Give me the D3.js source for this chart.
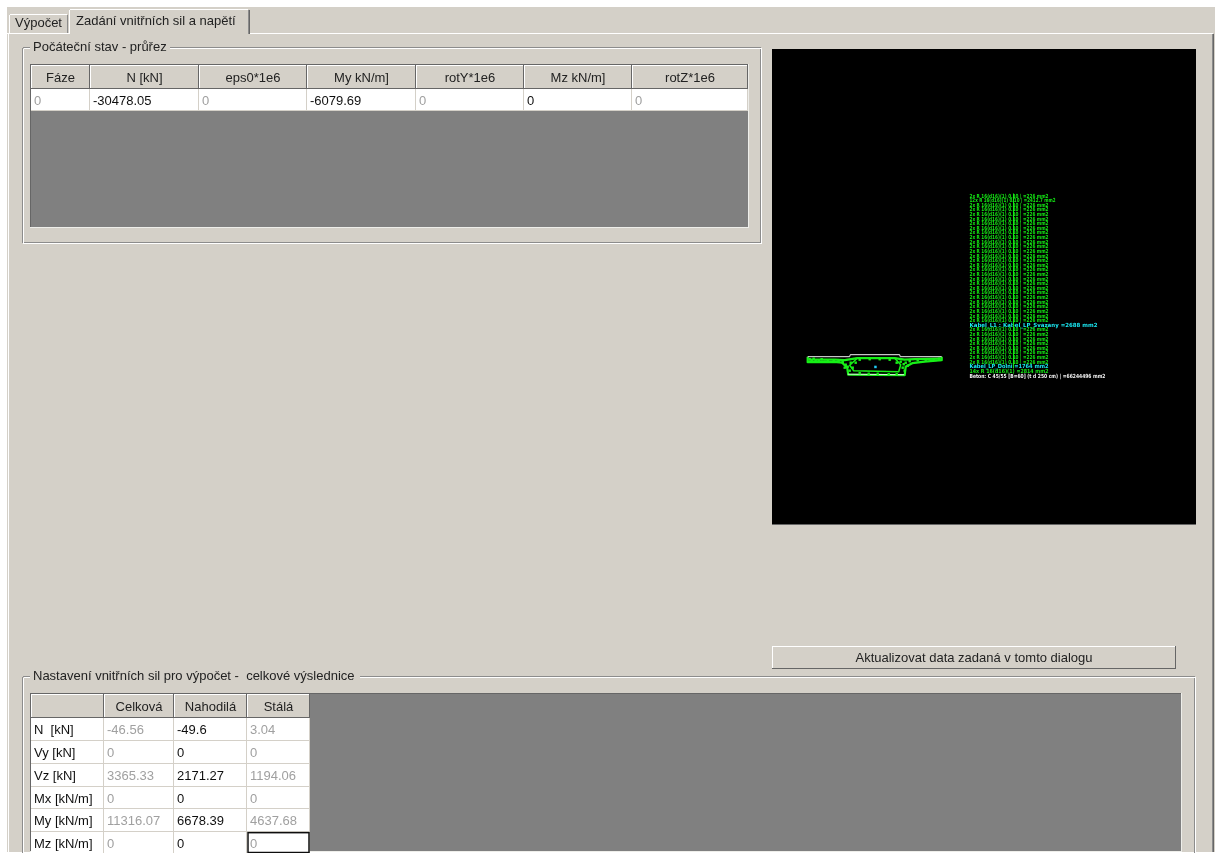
<!DOCTYPE html>
<html>
<head>
<meta charset="utf-8">
<script src="https://cdn.jsdelivr.net/npm/d3@7"></script>
<style>
html,body{margin:0;padding:0;background:#fff;overflow:hidden}
svg{display:block}
text{font-family:"Liberation Sans",sans-serif;font-size:13px;fill:#222;white-space:pre}
</style>
</head>
<body>
<div id="chart"></div>
<script>
var tabs = ['Výpočet','Zadání vnitřních sil a napětí']
var stateTitle = 'Počáteční stav - průřez'
var stateHeaders = ['Fáze','N [kN]','eps0*1e6','My kN/m]','rotY*1e6','Mz kN/m]','rotZ*1e6']
var stateValues = ['0','-30478.05','0','-6079.69','0','0','0']
var stateEnabled = [false,true,false,true,false,true,false]
var forcesTitle = 'Nastavení vnitřních sil pro výpočet -  celkové výslednice'
var forcesHeaders = ['','Celková','Nahodilá','Stálá']
var forcesRows = ['N  [kN]','Vy [kN]','Vz [kN]','Mx [kN/m]','My [kN/m]','Mz [kN/m]']
var celkova = ['-46.56','0','3365.33','0','11316.07','0']
var nahodila = ['-49.6','0','2171.27','0','6678.39','0']
var stala = ['3.04','0','1194.06','0','4637.68','0']
var buttonLabel = 'Aktualizovat data zadaná v tomto dialogu'

// section outline, 0.2 m units from the axis / metres from the deck top
var deckTop = [[-13.4,.2],[-5,.2],[-4.9,0],[5,0],[5.1,.2],[13.4,.2]]
var deckUnder = [[-13.4,.2],[-13.4,.75],[-8,.72],[-6.5,.8],[-5.5,1.3],[-5.3,2],[6,2.05],[6.2,1.2],[7.5,.85],[10,.7],[13.4,.55],[13.4,.2]]
var wingLine = [[-13.2,.5],[-8,.5],[-6,.55],[-3.5,.35],[4,.35],[6,.5],[8,.45],[13.2,.4]]
var voidLine = [[-3.5,.35],[-5,1.05],[-4.2,1.6],[4.8,1.7],[5.2,1],[4,.35]]
var soffit = [[-5.4,1.95],[5.9,2]]
var deckBars = [[-12.6,.55],[-11.8,.6],[-10.6,.45],[-9.4,.6],[-8.2,.65],[-7.2,.6],[-6.4,.75],[-5.8,1],[-5.4,1.2],[-4.8,.8],[-4.4,1.3],[-5,1.6],[5.2,.7],[5.8,.95],[6.2,.8],[5.6,1.3],[6,1.6],[7,.65],[8.6,.55],[10.2,.5],[11.8,.45],[12.9,.4],[-3,1.85],[-1.2,1.9],[.6,1.9],[2.8,1.95],[4.4,1.95],[-13,.45],[-12.2,.4],[-11.2,.65],[-10,.7],[-3,.5],[-1,.45],[1,.45],[3,.5],[6.6,1.1],[-6,1.3],[-3.8,.8],[4.4,.8]]
var tendon = [[.1,1.2]]

// bar list next to the section
var barText = '2x R 16(d16)(1) 0.10 | =226 mm2'
var barLabels = ['2x R 16(d16)(1) 0.10 | =226 mm2','12x R 16(d16)(1) 0.10 | =2412.7 mm2'].concat(Array(26).fill(barText))
var cableLabel = 'Kabel_L1 : Kabel_LP_Svazany =2688 mm2'
var lowerLabels = Array(8).fill(barText)
var cableLabel2 = 'Kabel_LP_Dolni =1764 mm2'
var lastBar = '14x R 16(d16)(1) =2814 mm2'
var concreteLabel = 'Beton: C 45/55 [B=60] (t d 250 cm) | =66244496 mm2'

var W = 1221, H = 853
var bg = '#d4d0c8', gray = '#808080', dark = '#666', mid = '#8c8c8c', light = '#fff'

var svg = d3.select('#chart').append('svg').attr('width',W).attr('height',H)
var defs = svg.append('defs')
defs.append('filter').attr('id','soft').attr('x',0).attr('y',0).attr('width',1).attr('height',1)
	.append('feGaussianBlur').attr('stdDeviation',.35)
var root = svg.append('g').attr('filter','url(#soft)')

function rect(g,x0,y0,x1,y1,fill){
	return g.append('rect').attr('x',x0).attr('y',y0).attr('width',x1-x0).attr('height',y1-y0).attr('fill',fill)
}
function line(g,x0,y0,x1,y1,c){
	return g.append('line').attr('x1',x0).attr('y1',y0).attr('x2',x1).attr('y2',y1)
		.attr('stroke',c).attr('stroke-width',1).attr('shape-rendering','crispEdges')
}
function label(g,x,y,s,c,anchor){
	return g.append('text').attr('x',x).attr('y',y).attr('text-anchor',anchor||'start').style('fill',c||'#222').text(s)
}
// raised win32 bevel
function bevel(g,x0,y0,x1,y1){
	line(g,x0,y0+.5,x1,y0+.5,light); line(g,x0+.5,y0,x0+.5,y1,light)
	line(g,x0,y1-.5,x1,y1-.5,dark); line(g,x1-.5,y0,x1-.5,y1,dark)
}
// etched group box with a title gap
function group(g,x0,y0,x1,y1,title,gap){
	;[[0,mid],[1,light]].forEach(function(d){
		var o = d[0]+.5
		line(g,x0+o,y0+o,x0+8,y0+o,d[1])
		line(g,gap,y0+o,x1+o,y0+o,d[1])
		line(g,x0+o,y0+o,x0+o,y1+o,d[1])
		line(g,x1+o,y0+o,x1+o,y1+o,d[1])
		line(g,x0+o,y1+o,x1+o,y1+o,d[1])
	})
	label(g,x0+11,y0+4,title,'#222')
}

rect(root,7,7,1215,852,bg)

// tabs
var tabG = root.append('g')
line(tabG,7,33.5,1213,33.5,light)
line(tabG,8.5,34,8.5,852,light)
line(tabG,1212.5,34,1212.5,852,mid)
line(tabG,1213.5,34,1213.5,852,dark)
rect(tabG,9,14,68,33,bg)
line(tabG,9.5,15,9.5,33,light); line(tabG,10,14.5,67,14.5,light); line(tabG,67.5,15,67.5,33,mid)
label(tabG,15,27,tabs[0])
rect(tabG,69,9,250,35,bg)
line(tabG,69.5,10,69.5,34,light); line(tabG,70,9.5,248,9.5,light)
line(tabG,248.5,10,248.5,34,mid); line(tabG,249.5,10,249.5,34,dark)
label(tabG,76,25,tabs[1])

// generic grid: gray client area, header row, body rows
function grid(x0,y0,x1,y1,colEdges,headers,rowY,headerBottom,cells){
	var g = root.append('g')
	var col = d3.scaleOrdinal(d3.range(colEdges.length),colEdges)
	rect(g,x0,y0,x1,y1,gray)
	line(g,x0,y0+.5,x1,y0+.5,dark); line(g,x0+.5,y0,x0+.5,y1,dark)
	line(g,x0,y1-.5,x1,y1-.5,'#eeeeea'); line(g,x1-.5,y0,x1-.5,y1,'#eeeeea')
	headers.forEach(function(h,i){
		var a = col(i), b = col(i+1)
		rect(g,a,y0+1,b,headerBottom,bg)
		bevel(g,a,y0+1,b,headerBottom)
		label(g,(a+b)/2,headerBottom-7,h,'#222','middle')
	})
	cells.forEach(function(c){
		var a = col(c.col), b = col(c.col+1), t = Math.round(rowY(c.row)), u = Math.round(rowY(c.row)+rowY.bandwidth())
		rect(g,a,t,b,u,'#fff')
		line(g,b-.5,t,b-.5,u,bg); line(g,a,u-.5,b,u-.5,bg)
		label(g,a+3,t+rowY.bandwidth()/2+4.5,c.text,c.on?'#111':'#a0a0a0')
	})
	return {g:g,col:col}
}

// upper table
var stateEdges = [31,90,199,307,416,524,632,748]
var stateCells = stateValues.map(function(v,i){return {col:i,row:0,text:v,on:stateEnabled[i]}})
group(root,22,47,760,242,stateTitle,170)
grid(30,64,749,228,stateEdges,stateHeaders,d3.scaleBand([0],[89,111]),89,stateCells)

// lower table
var forcesEdges = [31,104,174,247,310]
var forcesCells = []
forcesRows.forEach(function(r,i){
	forcesCells.push({col:0,row:i,text:r,on:true})
	forcesCells.push({col:1,row:i,text:celkova[i],on:false})
	forcesCells.push({col:2,row:i,text:nahodila[i],on:true})
	forcesCells.push({col:3,row:i,text:stala[i],on:false})
})
group(root,22,676,1194,900,forcesTitle,360)
var forcesY = d3.scaleBand(d3.range(forcesRows.length),[718,855])
var ft = grid(30,693,1182,852,forcesEdges,forcesHeaders,forcesY,718,forcesCells)
ft.g.append('rect').attr('x',ft.col(3)+1).attr('y',forcesY(5)+.5).attr('width',ft.col(4)-ft.col(3)-2).attr('height',forcesY.bandwidth()-3)
	.attr('fill','none').attr('stroke','#111').attr('stroke-width',1.5)

// button
var btn = root.append('g')
bevel(btn,772,646,1176,669)
label(btn,974,662,buttonLabel,'#222','middle')

// black viewport
var view = root.append('g')
rect(view,772,49,1196,524,'#000')
line(view,772,524,1196,524,'#666')

var sx = d3.scaleLinear([-13.4,13.4],[807.7,941.7])
var sy = d3.scaleLinear([0,2.2],[354.7,376.7])
var outline = d3.line().x(function(d){return sx(d[0])}).y(function(d){return sy(d[1])})
var green = '#19f019'
var sec = view.append('g').attr('fill','none').attr('stroke-linejoin','round')
sec.append('path').attr('d',outline(deckUnder)).attr('stroke',green).attr('stroke-width',2.2)
sec.append('path').attr('d',outline(wingLine)).attr('stroke',green).attr('stroke-width',2.2)
sec.append('path').attr('d',outline(voidLine)).attr('stroke',green).attr('stroke-width',1.5)
sec.append('path').attr('d',outline(deckTop)).attr('stroke','#f4f4f4').attr('stroke-width',1)
sec.append('path').attr('d',outline(soffit)).attr('stroke','#d8f8d8').attr('stroke-width',1)
view.selectAll('rect.bar').data(deckBars).join('rect').attr('class','bar')
	.attr('x',function(d){return sx(d[0])-1.2}).attr('y',function(d){return sy(d[1])-1.2})
	.attr('width',2.4).attr('height',2.4).attr('fill',green)
view.selectAll('rect.tendon').data(tendon).join('rect').attr('class','tendon')
	.attr('x',function(d){return sx(d[0])-1}).attr('y',function(d){return sy(d[1])-1})
	.attr('width',2.5).attr('height',2.5).attr('fill','#20c8f0')

// text list: each row sits on the next step of the y scale
var rows = barLabels.map(function(t,i){return {t:t,c:'#14e614',w:i==1?86:79}})
rows.push({t:cableLabel,c:'#19e6f0',w:128})
lowerLabels.forEach(function(t){rows.push({t:t,c:'#14e614',w:79})})
rows.push({t:cableLabel2,c:'#19e6f0',w:79})
rows.push({t:lastBar,c:'#14e614',w:79})
rows.push({t:concreteLabel,c:'#f4f4f4',w:136})
var ry = d3.scaleLinear([0,rows.length-1],[197.5,377.5])
view.selectAll('text.lbl').data(rows).join('text').attr('class','lbl')
	.attr('x',969.5).attr('y',function(d,i){return ry(i)})
	.attr('textLength',function(d){return d.w}).attr('lengthAdjust','spacingAndGlyphs')
	.style('font-family','"DejaVu Sans"').style('font-size','5.6px').style('font-weight','bold')
	.style('fill',function(d){return d.c})
	.text(function(d){return d.t})
// the "|" of all rows stacks into one long rule
view.append('line').attr('x1',1013.5).attr('x2',1013.5).attr('y1',ry(0)-4).attr('y2',ry(rows.length-3))
	.attr('stroke','#14e614').attr('stroke-width',1)
</script>
</body>
</html>
